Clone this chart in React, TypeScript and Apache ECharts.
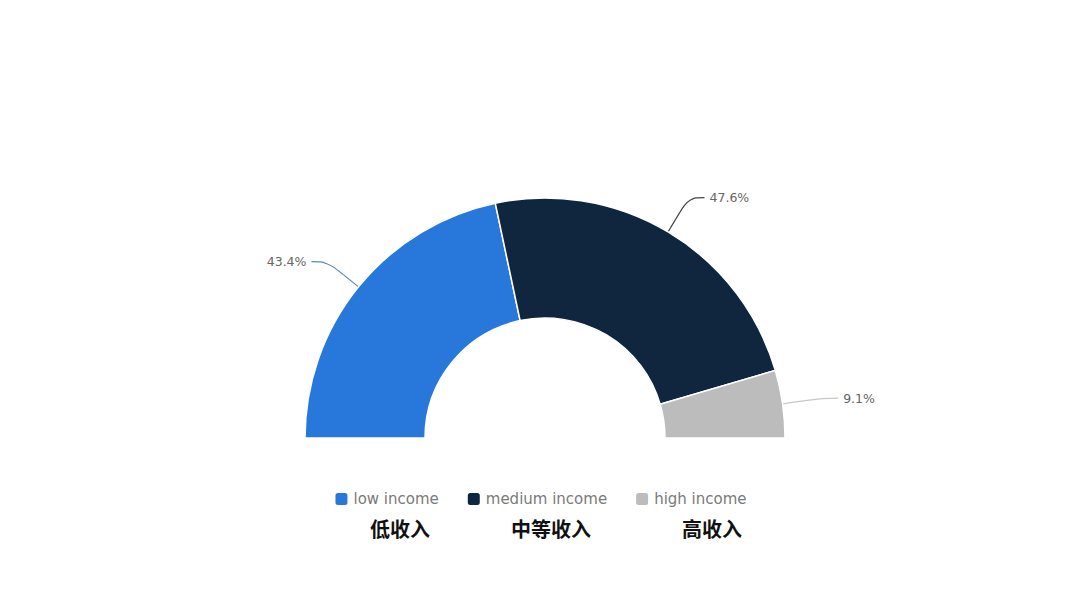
import * as echarts from "echarts";
import React, { useEffect, useRef } from "react";

const categories = ["low income", "medium income", "high income"];
const shares = [43.4, 47.6, 9.1];
const cnLabels = ["低收入", "中等收入", "高收入"];
const colors = ["#2878dc", "#10263f", "#bcbcbc"];
const lineColors = ["#5b86b8", "#444", "#c8c8c8"];
const cnX = [400, 551, 712];

const App: React.FC = () => {
  const chartRef = useRef<HTMLDivElement | null>(null);

  useEffect(() => {
    document.body.style.margin = "0";
    const chart = echarts.init(chartRef.current, null, { renderer: "svg" });
    chart.setOption({
      animation: false,
      color: colors,
      legend: {
        bottom: 96,
        left: "center",
        icon: "roundRect",
        itemWidth: 14,
        itemHeight: 14,
        itemGap: 27,
        textStyle: {
          color: "#7a7a7a",
          fontSize: 15,
          fontFamily: "DejaVu Sans, sans-serif",
        },
        data: categories,
      },
      graphic: cnLabels.map((t, i) => ({
        type: "text",
        x: cnX[i],
        y: 528,
        style: {
          text: t,
          fill: "#111",
          font: "bold 20px 'Noto Sans CJK SC'",
          textAlign: "center",
          textVerticalAlign: "middle",
        },
      })),
      series: [
        {
          type: "pie",
          center: [545, 438],
          radius: [120, 240],
          startAngle: 180,
          endAngle: 0,
          itemStyle: { borderColor: "#fff", borderWidth: 1.5 },
          label: {
            formatter: "{c}%",
            color: "#666",
            fontSize: 12.5,
            fontFamily: "DejaVu Sans, sans-serif",
          },
          labelLine: {
            length: 40,
            length2: 16,
            smooth: 0.4,
            lineStyle: { width: 1.2 },
          },
          data: categories.map((name, i) => ({
            name,
            value: shares[i],
            labelLine: { lineStyle: { color: lineColors[i] } },
          })),
        },
      ],
    });
    return () => chart.dispose();
  }, []);

  return <div ref={chartRef} style={{ width: 1080, height: 608 }}></div>;
};

export default App;
